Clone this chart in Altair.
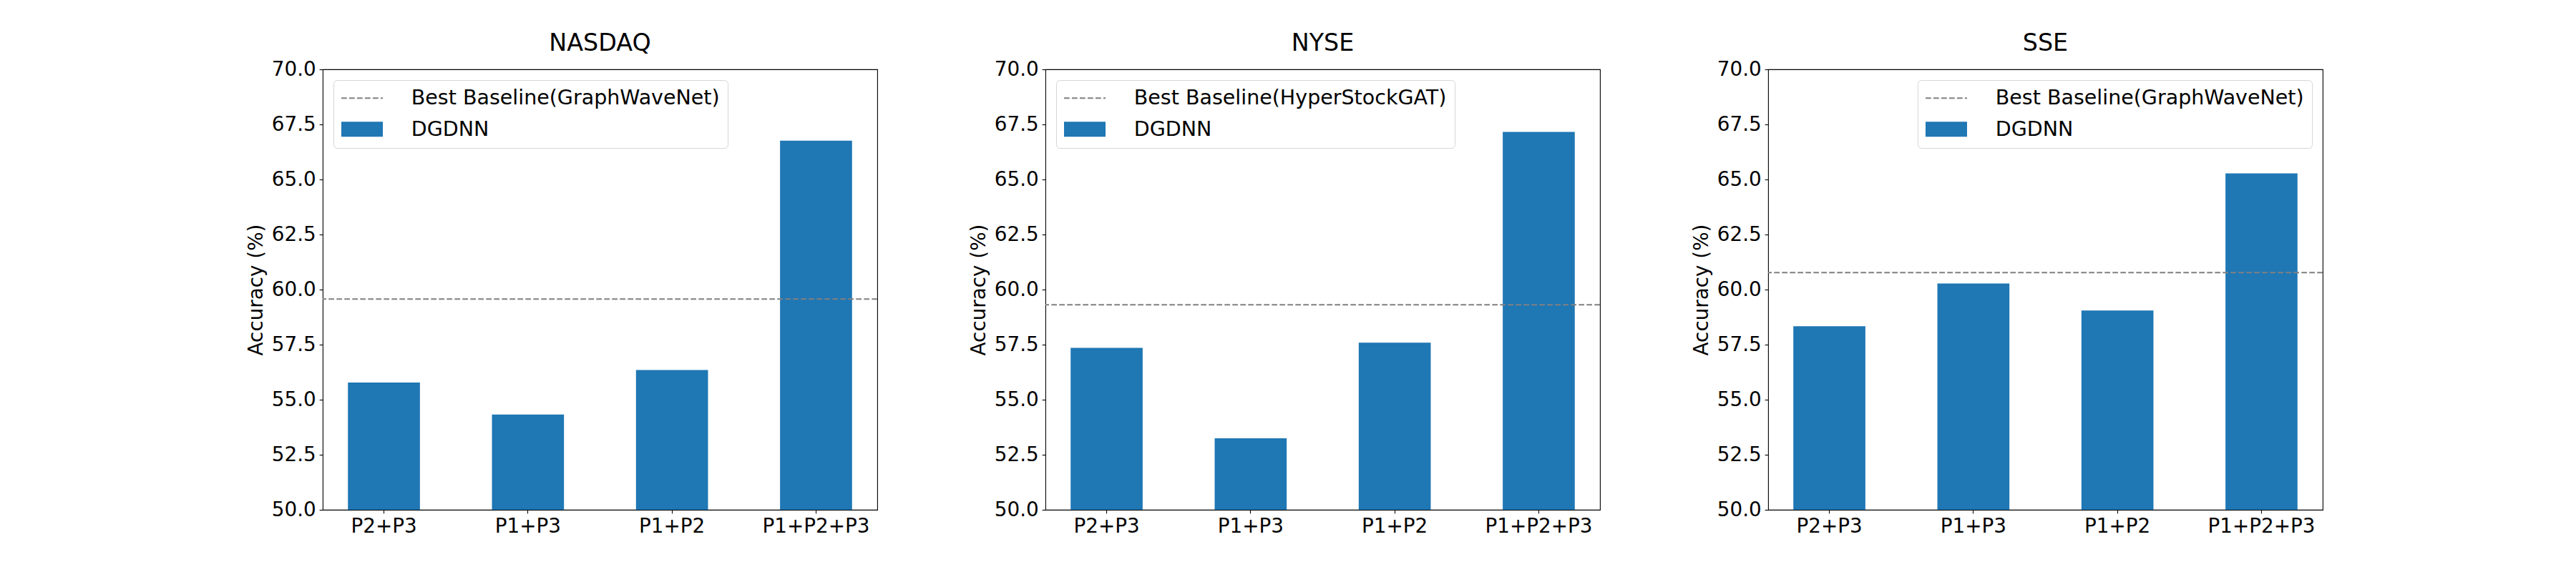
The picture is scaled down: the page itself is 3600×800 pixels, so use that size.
import math
import altair as alt
import pandas as pd

# ---- data ----
categories = ["P2+P3", "P1+P3", "P1+P2", "P1+P2+P3"]
titles = ["NASDAQ", "NYSE", "SSE"]
nasdaq_acc = [55.78, 54.33, 56.35, 66.76]
nyse_acc = [57.35, 53.25, 57.59, 67.16]
sse_acc = [58.34, 60.28, 59.05, 65.28]
baseline_acc = [59.57, 59.31, 60.77]
baseline_names = [
    "Best Baseline(GraphWaveNet)",
    "Best Baseline(HyperStockGAT)",
    "Best Baseline(GraphWaveNet)",
]
model_name = "DGDNN"
y_ticks = [50.0, 52.5, 55.0, 57.5, 60.0, 62.5, 65.0, 67.5, 70.0]
legend_orients = ["top-left", "top-left", "top-right"]

# ---- styling ----
FONT = "DejaVu Sans"
BAR_COLOR = "#1f77b4"
LINE_COLOR = "#808080"
FS = 27.8
LEG_FS = 28.5
SYM_SIZE = 400
K = math.sqrt(SYM_SIZE) / 2.0  # px per path unit
HANDLE_W = 58.0
HANDLE_H = 21.0


def rect_path():
    hw = HANDLE_W / 2 / K
    hh = HANDLE_H / 2 / K
    return f"M{-hw:.3f},{-hh:.3f}H{hw:.3f}V{hh:.3f}H{-hw:.3f}Z"


def dash_path():
    parts = []
    start = 0.0
    hh = 1.0 / K
    while start < HANDLE_W:
        end = min(start + 7.7, HANDLE_W)
        a = (start - HANDLE_W / 2) / K
        b = (end - HANDLE_W / 2) / K
        parts.append(f"M{a:.3f},{-hh:.3f}H{b:.3f}V{hh:.3f}H{a:.3f}Z")
        start += 11.0
    return "".join(parts)


def panel(title, values, base, base_name, orient):
    bars_df = pd.DataFrame({"cat": categories, "acc": values})
    rule_df = pd.DataFrame({"acc": [base]})
    leg_df = pd.DataFrame({"series": [base_name, model_name]})

    x = alt.X(
        "cat:N",
        sort=categories,
        title=None,
        scale=alt.Scale(paddingInner=0.5, paddingOuter=0.175),
        axis=alt.Axis(labelAngle=0, bandPosition=0.5),
    )
    y_scale = alt.Scale(domain=[50, 70], nice=False, zero=False)
    y_axis = alt.Axis(values=y_ticks, format=".1f", title="Accuracy (%)")

    bars = alt.Chart(bars_df).mark_bar(color=BAR_COLOR, clip=True).encode(
        x=x, y=alt.Y("acc:Q", scale=y_scale, axis=y_axis)
    )
    rule = alt.Chart(rule_df).mark_rule(
        color=LINE_COLOR, strokeWidth=2, strokeDash=[7.7, 3.3], strokeCap="butt"
    ).encode(y=alt.Y("acc:Q", scale=y_scale, axis=y_axis))

    size_px = max(math.ceil(math.sqrt(SYM_SIZE)), LEG_FS)
    legend = alt.Legend(
        title=None,
        orient=orient,
        offset=15,
        padding=11,
        strokeColor="#d6d6d6",
        fillColor="white",
        cornerRadius=5,
        labelFont=FONT,
        labelFontSize=LEG_FS,
        labelColor="black",
        labelLimit=1000,
        labelOffset=83 - size_px,
        symbolOffset=HANDLE_W / 2 - size_px / 2,
        symbolSize=SYM_SIZE,
        symbolStrokeWidth=0,
        rowPadding=14.5,
    )
    leg_layer = (
        alt.Chart(leg_df)
        .transform_filter("false")
        .mark_point(filled=True, opacity=1)
        .encode(
            color=alt.Color(
                "series:N",
                scale=alt.Scale(domain=[base_name, model_name], range=[LINE_COLOR, BAR_COLOR]),
                legend=legend,
            ),
            shape=alt.Shape(
                "series:N",
                scale=alt.Scale(domain=[base_name, model_name], range=[dash_path(), rect_path()]),
                legend=legend,
            ),
        )
    )

    return alt.layer(bars, rule, leg_layer).properties(
        width=775,
        height=616,
        title=alt.TitleParams(
            text=title,
            font=FONT,
            fontSize=33.3,
            fontWeight="normal",
            color="black",
            baseline="alphabetic",
            offset=-21,
            frame="group",
            anchor="middle",
        ),
    )


panels = [
    panel(titles[0], nasdaq_acc, baseline_acc[0], baseline_names[0], legend_orients[0]),
    panel(titles[1], nyse_acc, baseline_acc[1], baseline_names[1], legend_orients[1]),
    panel(titles[2], sse_acc, baseline_acc[2], baseline_names[2], legend_orients[2]),
]

chart = (
    alt.hconcat(*panels, spacing=125)
    .resolve_scale(x="independent", y="independent", color="independent", shape="independent")
    .resolve_legend(color="independent", shape="independent")
    .properties(
        padding={"left": 335, "top": 35, "right": 5, "bottom": 5},
        background="white",
    )
    .configure_view(stroke="black", strokeWidth=1.1)
    .configure_axis(
        labelFont=FONT,
        labelFontSize=FS,
        labelColor="black",
        labelPadding=4.9,
        tickColor="black",
        tickWidth=1.1,
        tickSize=4.9,
        domain=False,
        grid=False,
        titleFont=FONT,
        titleFontSize=FS,
        titleFontWeight="normal",
        titleColor="black",
        titlePadding=7,
    )
)

chart.save("out.html", embed_options={"renderer": "svg", "actions": False})
